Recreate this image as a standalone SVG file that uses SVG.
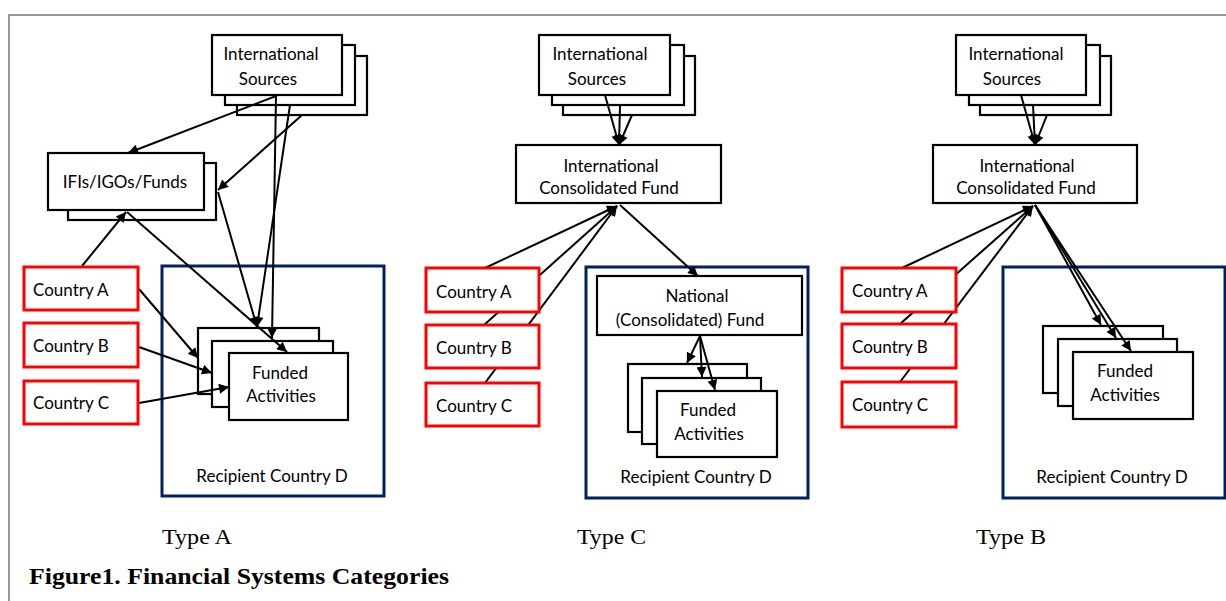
<svg xmlns="http://www.w3.org/2000/svg" width="1226" height="601" viewBox="0 0 1226 601">
<style>
.bx{fill:#fff;stroke:#000;stroke-width:2.2}
.ct{fill:#fff;stroke:#ff0000;stroke-width:3}
.rc{fill:none;stroke:#002060;stroke-width:3}
.t{font-family:Lato,"Liberation Sans",sans-serif;font-size:17px;fill:#000}
.m{text-anchor:middle}
.cap{font-family:"Liberation Serif","Times New Roman",serif;fill:#000}
.cn line{stroke:#000;stroke-width:2;marker-end:url(#ah)}
</style>
<defs>
<marker id="ah" viewBox="0 0 10 10" refX="10" refY="5" markerWidth="12" markerHeight="10" markerUnits="userSpaceOnUse" orient="auto"><path d="M0,0L10,5L0,10z" fill="#000"/></marker>
</defs>
<rect width="1226" height="601" fill="#fff"/>
<path d="M9,601V15H1226" fill="none" stroke="#999" stroke-width="2"/>

<!-- Recipient containers -->
<g id="recipientA"><rect class="rc" x="162" y="266" width="222" height="230"/><text class="t m" x="272" y="482">Recipient Country D</text></g>
<g id="recipientC"><rect class="rc" x="586" y="267" width="222" height="231"/><text class="t m" x="696" y="483">Recipient Country D</text></g>
<g id="recipientB"><rect class="rc" x="1003" y="267" width="222" height="231"/><text class="t m" x="1112" y="483">Recipient Country D</text></g>

<!-- Type A nodes -->
<g id="sourcesA"><rect class="bx" x="237" y="56" width="130" height="59"/><rect class="bx" x="225" y="45" width="130" height="60"/><rect class="bx" x="212" y="35" width="130" height="60"/><text class="t m" x="271" y="60">International</text><text class="t m" x="268" y="85">Sources</text></g>
<g id="ifis"><rect class="bx" x="68" y="163" width="148" height="57"/><rect class="bx" x="48" y="153" width="156" height="57"/><text class="t m" x="125" y="188">IFIs/IGOs/Funds</text></g>
<g id="fundedA"><rect class="bx" x="198" y="328" width="121" height="66"/><rect class="bx" x="212" y="341" width="121" height="66"/><rect class="bx" x="229" y="353" width="119" height="67"/><text class="t m" x="280" y="379">Funded</text><text class="t m" x="281" y="402">Activities</text></g>

<!-- Type C nodes -->
<g id="sourcesC"><rect class="bx" x="563" y="56" width="132" height="59"/><rect class="bx" x="552" y="45" width="132" height="60"/><rect class="bx" x="539" y="35" width="131" height="60"/><text class="t m" x="600" y="60">International</text><text class="t m" x="597" y="85">Sources</text></g>
<g id="icfC"><rect class="bx" x="516" y="145" width="205" height="58"/><text class="t m" x="611" y="172">International</text><text class="t m" x="609" y="194">Consolidated Fund</text></g>
<g id="nationalC"><rect class="bx" x="597" y="276" width="205" height="59"/><text class="t m" x="697" y="302">National</text><text class="t m" x="690" y="326">(Consolidated) Fund</text></g>
<g id="fundedC"><rect class="bx" x="628" y="364" width="119" height="68"/><rect class="bx" x="642" y="378" width="119" height="66"/><rect class="bx" x="657" y="391" width="120" height="66"/><text class="t m" x="708" y="416">Funded</text><text class="t m" x="709" y="440">Activities</text></g>

<!-- Type B nodes -->
<g id="sourcesB"><rect class="bx" x="980" y="56" width="131" height="59"/><rect class="bx" x="969" y="45" width="131" height="60"/><rect class="bx" x="956" y="35" width="130" height="60"/><text class="t m" x="1016" y="60">International</text><text class="t m" x="1012" y="85">Sources</text></g>
<g id="icfB"><rect class="bx" x="933" y="145" width="204" height="58"/><text class="t m" x="1027" y="172">International</text><text class="t m" x="1026" y="194">Consolidated Fund</text></g>
<g id="fundedB"><rect class="bx" x="1043" y="326" width="120" height="67"/><rect class="bx" x="1058" y="339" width="119" height="67"/><rect class="bx" x="1073" y="352" width="120" height="67"/><text class="t m" x="1125" y="377">Funded</text><text class="t m" x="1125" y="401">Activities</text></g>

<!-- Connectors -->
<g id="connectors" class="cn">
<line x1="276" y1="96" x2="128" y2="153"/>
<line x1="302" y1="115" x2="218" y2="190"/>
<line x1="276" y1="96" x2="272" y2="338"/>
<line x1="290" y1="105" x2="257" y2="327"/>
<line x1="218" y1="192" x2="257" y2="327"/>
<line x1="127" y1="212" x2="287" y2="352"/>
<line x1="82" y1="266" x2="126" y2="212"/>
<line x1="139" y1="289" x2="198" y2="358"/>
<line x1="139" y1="347" x2="212" y2="373"/>
<line x1="139" y1="403" x2="229" y2="387"/>

<line x1="605" y1="95" x2="619" y2="145"/>
<line x1="620" y1="105" x2="619" y2="145"/>
<line x1="632" y1="115" x2="619" y2="145"/>
<line x1="485" y1="268" x2="617" y2="206"/>
<line x1="484" y1="325" x2="617" y2="206"/>
<line x1="485" y1="383" x2="617" y2="206"/>
<line x1="620" y1="205" x2="698" y2="276"/>
<line x1="700" y1="336" x2="687" y2="363"/>
<line x1="700" y1="336" x2="702" y2="377"/>
<line x1="700" y1="336" x2="715" y2="390"/>

<line x1="1021" y1="95" x2="1035" y2="145"/>
<line x1="1033" y1="105" x2="1035" y2="145"/>
<line x1="1047" y1="115" x2="1035" y2="145"/>
<line x1="902" y1="268" x2="1033" y2="206"/>
<line x1="900" y1="324" x2="1033" y2="206"/>
<line x1="900" y1="382" x2="1033" y2="206"/>
<line x1="1035" y1="205" x2="1101" y2="325"/>
<line x1="1035" y1="205" x2="1116" y2="338"/>
<line x1="1035" y1="205" x2="1131" y2="351"/>
</g>

<!-- Country nodes -->
<g id="countryA_A"><rect class="ct" x="24" y="267" width="114" height="43"/><text class="t" x="33" y="296">Country A</text></g>
<g id="countryB_A"><rect class="ct" x="24" y="323" width="114" height="44"/><text class="t" x="33" y="352">Country B</text></g>
<g id="countryC_A"><rect class="ct" x="24" y="381" width="114" height="43"/><text class="t" x="33" y="409">Country C</text></g>

<g id="countryA_C"><rect class="ct" x="426" y="268" width="113" height="44"/><text class="t" x="436" y="298">Country A</text></g>
<g id="countryB_C"><rect class="ct" x="426" y="325" width="113" height="43"/><text class="t" x="436" y="354">Country B</text></g>
<g id="countryC_C"><rect class="ct" x="426" y="383" width="113" height="43"/><text class="t" x="436" y="412">Country C</text></g>

<g id="countryA_B"><rect class="ct" x="842" y="268" width="114" height="44"/><text class="t" x="852" y="297">Country A</text></g>
<g id="countryB_B"><rect class="ct" x="842" y="324" width="114" height="44"/><text class="t" x="852" y="353">Country B</text></g>
<g id="countryC_B"><rect class="ct" x="842" y="382" width="114" height="45"/><text class="t" x="852" y="411">Country C</text></g>

<!-- Labels -->
<g id="labels">
<text class="cap" x="162" y="544" font-size="21" textLength="70" lengthAdjust="spacingAndGlyphs">Type A</text>
<text class="cap" x="577" y="544" font-size="21" textLength="69" lengthAdjust="spacingAndGlyphs">Type C</text>
<text class="cap" x="976" y="544" font-size="21" textLength="70" lengthAdjust="spacingAndGlyphs">Type B</text>
<text class="cap" x="29" y="584" font-size="22.5" font-weight="bold" textLength="420" lengthAdjust="spacingAndGlyphs">Figure1. Financial Systems Categories</text>
</g>
</svg>
